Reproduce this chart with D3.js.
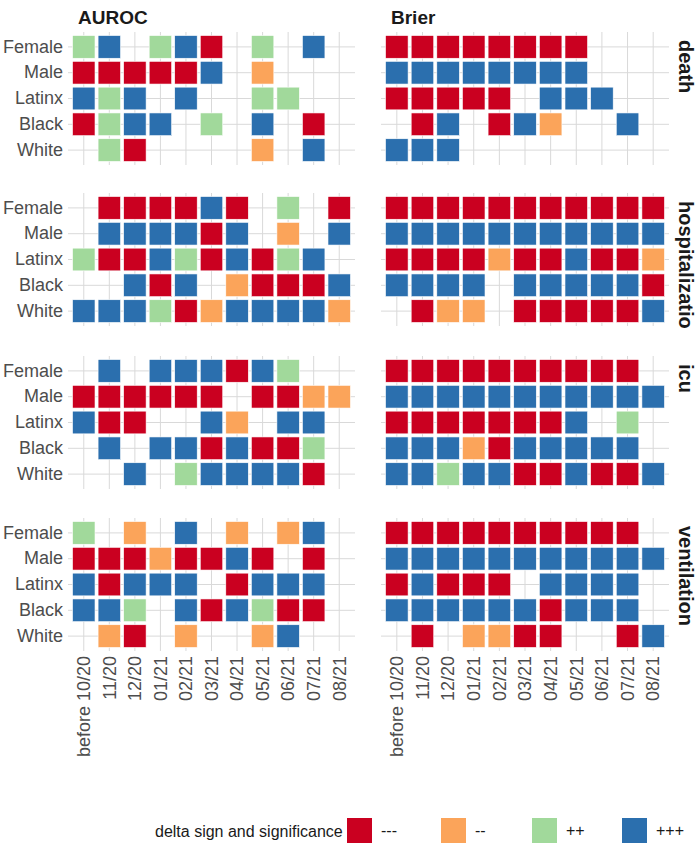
<!DOCTYPE html>
<html><head><meta charset="utf-8">
<script src="https://cdn.jsdelivr.net/npm/d3@7"></script>
<style>body{margin:0;background:#fff}svg{display:block}text{font-family:"Liberation Sans",Arial,sans-serif}</style>
</head><body><svg id="c" width="700" height="849"></svg>
<script>
const months = ["before 10/20","11/20","12/20","01/21","02/21","03/21","04/21","05/21","06/21","07/21","08/21"];
const groups = ["Female","Male","Latinx","Black","White"];
const metrics = ["AUROC","Brier"];
const outcomes = ["death","hospitalization","icu","ventilation"];
const levels = ["---","--","++","+++"];
const levelCodes = ["R","O","G","B"];
const levelColors = ["#ca0020","#fba45a","#a1d99b","#2b6fae"];

// rows = groups, chars = months ('.' = not shown)
const deathAUROC = ["GB.GBR.G.B.","RRRRRB.O...","BGB.B..GG..","RGBB.G.B.R.",".GR....O.B."];
const deathBrier = ["RRRRRRRR...","BBBBBBBB...","RRRRR.BBB..",".RB.RBO..B.","BBB........"];
const hospAUROC = [".RRRRBR.G.R",".BBBBRB.O.B","GRRBGRBRGB.","..BRB.ORRRB","BBBGROBBBBO"];
const hospBrier = ["RRRRRRRRRRR","BBBBBBBBBBB","RRRRORRBRRO","BBBB.BBBBBR",".ROO.RRRRRB"];
const icuAUROC = [".B.BBBRBG..","RRRRRR.RROO","BRR..BO.BB.",".B.BBRBRRG.","..B.GBBBBR."];
const icuBrier = ["RRRRRRRRRR.","BBBBBBBBBBB","RRRRRRRB.G.","BBBORBBBBB.","BBGBBRRBRRB"];
const ventAUROC = ["G.O.B.O.OB.","RRRORRBR.R.","BRBBB.RBBB.","BBG.BRBGRR.",".OR.O..OB.."];
const ventBrier = ["RRRRRRRRRR.","BBBBBBBBBBB","RBRRR.BBBB.","BBBBBBRBBB.",".R.OORR..RB"];

const panels = [
  [deathAUROC, deathBrier],
  [hospAUROC, hospBrier],
  [icuAUROC, icuBrier],
  [ventAUROC, ventBrier]
];

const svg = d3.select("#c");
const colX = [[71,352],[384,666]];
const rowY = [[34,163],[195,324],[358,487],[520,649]];
const color = d3.scaleOrdinal().domain(levelCodes).range(levelColors);
const grid = "#d9d9d9";
const FONT = '"Liberation Sans",Arial,sans-serif';

const defs = svg.append("defs");

outcomes.forEach((oc, r) => {
  const y = d3.scaleBand().domain(groups).range(rowY[r]);
  metrics.forEach((m, c) => {
    const x = d3.scaleBand().domain(months).range(colX[c]);
    const g = svg.append("g");
    g.selectAll("line.v").data(months).join("line")
      .attr("x1", d => x(d) + x.bandwidth()/2).attr("x2", d => x(d) + x.bandwidth()/2)
      .attr("y1", rowY[r][0] - 2).attr("y2", rowY[r][1] + 2)
      .attr("stroke", grid).attr("stroke-width", 1);
    g.selectAll("line.h").data(groups).join("line")
      .attr("y1", d => y(d) + y.bandwidth()/2).attr("y2", d => y(d) + y.bandwidth()/2)
      .attr("x1", colX[c][0] - 3).attr("x2", colX[c][1] + 3)
      .attr("stroke", grid).attr("stroke-width", 1);
    const cells = [];
    panels[r][c].forEach((row, gi) => {
      row.split("").forEach((ch, mi) => {
        if (ch !== ".") cells.push({g: groups[gi], m: months[mi], v: ch});
      });
    });
    const w = x.bandwidth() * 0.88, h = y.bandwidth() * 0.88;
    g.selectAll("rect").data(cells).join("rect")
      .attr("x", d => x(d.m) + (x.bandwidth() - w)/2)
      .attr("y", d => y(d.g) + (y.bandwidth() - h)/2)
      .attr("width", w).attr("height", h)
      .attr("fill", d => color(d.v))
      .attr("stroke", "#fff").attr("stroke-width", 0.6);
    if (c === 0) {
      const ya = svg.append("g").attr("transform", `translate(${colX[0][0]-8},0)`)
        .call(d3.axisLeft(y).tickSize(0).tickPadding(0));
      ya.select(".domain").remove();
      ya.selectAll("text").attr("font-size", 18).attr("fill", "#4d4d4d")
        .style("font-family", FONT);
    }
    if (r === 3) {
      const xa = svg.append("g").attr("transform", `translate(0,${rowY[3][1]+7})`)
        .call(d3.axisBottom(x).tickSize(0).tickPadding(0));
      xa.select(".domain").remove();
      xa.selectAll("text").attr("font-size", 18).attr("fill", "#4d4d4d")
        .style("font-family", FONT)
        .attr("transform", "rotate(-90)").attr("text-anchor", "end")
        .attr("x", 0).attr("y", 0).attr("dy", "0.35em");
    }
  });
  // right strip: top-aligned, clipped to panel height
  const cid = "clip" + r;
  defs.append("clipPath").attr("id", cid).append("rect")
    .attr("x", 668).attr("y", rowY[r][0] - 4).attr("width", 32).attr("height", rowY[r][1] - rowY[r][0] + 8);
  svg.append("g").attr("clip-path", `url(#${cid})`)
    .append("text")
    .attr("transform", `translate(679,${rowY[r][0] + 6}) rotate(90)`)
    .attr("text-anchor", "start").attr("font-size", 20).attr("font-weight", "bold")
    .attr("fill", "#1a1a1a").text(oc);
});

metrics.forEach((m, c) => {
  svg.append("text").attr("x", colX[c][0] + 7).attr("y", 24)
    .attr("font-size", 19).attr("font-weight", "bold").attr("fill", "#1a1a1a").text(m);
});

const lg = svg.append("g");
lg.append("text").attr("x", 155).attr("y", 837).attr("font-size", 16).attr("fill", "#1a1a1a")
  .text("delta sign and significance");
const lx = d3.scaleOrdinal().domain(levels).range([347, 441, 532, 622]);
levels.forEach((lv, i) => {
  lg.append("rect").attr("x", lx(lv)).attr("y", 818).attr("width", 25).attr("height", 25)
    .attr("fill", levelColors[i]);
  lg.append("text").attr("x", lx(lv) + 34).attr("y", 836).attr("font-size", 16)
    .attr("fill", "#1a1a1a").text(lv);
});
</script></body></html>
